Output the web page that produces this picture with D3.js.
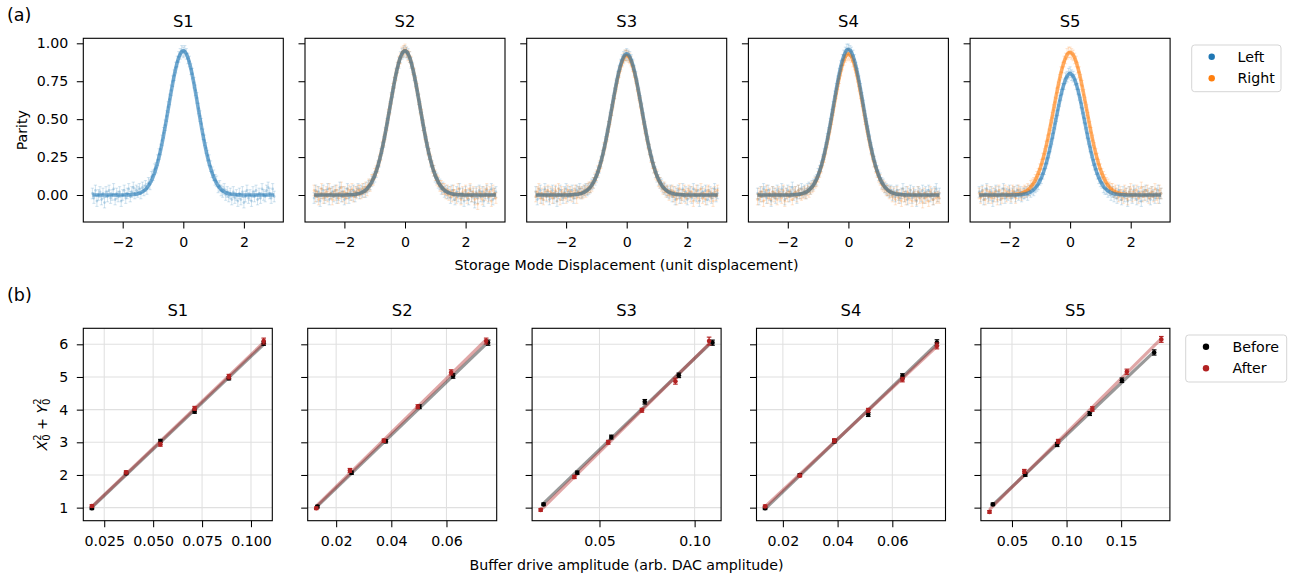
<!DOCTYPE html>
<html><head><meta charset="utf-8">
<script src="https://cdn.jsdelivr.net/npm/d3@7"></script>
<style>
body{margin:0;background:#fff}
text{font-family:"DejaVu Sans",sans-serif;fill:#000}
</style>
</head><body>
<svg id="chart" width="1294" height="579"></svg>
<script>
// ---------------- DATA ----------------
const panelNames = ["S1","S2","S3","S4","S5"];

// (a) storage mode displacement sweep
const displacement = [
 -3.00,-2.95,-2.90,-2.85,-2.80,-2.75,-2.70,-2.65,-2.60,-2.55,
 -2.50,-2.45,-2.40,-2.35,-2.30,-2.25,-2.20,-2.15,-2.10,-2.05,
 -2.00,-1.95,-1.90,-1.85,-1.80,-1.75,-1.70,-1.65,-1.60,-1.55,
 -1.50,-1.45,-1.40,-1.35,-1.30,-1.25,-1.20,-1.15,-1.10,-1.05,
 -1.00,-0.95,-0.90,-0.85,-0.80,-0.75,-0.70,-0.65,-0.60,-0.55,
 -0.50,-0.45,-0.40,-0.35,-0.30,-0.25,-0.20,-0.15,-0.10,-0.05,
  0.00, 0.05, 0.10, 0.15, 0.20, 0.25, 0.30, 0.35, 0.40, 0.45,
  0.50, 0.55, 0.60, 0.65, 0.70, 0.75, 0.80, 0.85, 0.90, 0.95,
  1.00, 1.05, 1.10, 1.15, 1.20, 1.25, 1.30, 1.35, 1.40, 1.45,
  1.50, 1.55, 1.60, 1.65, 1.70, 1.75, 1.80, 1.85, 1.90, 1.95,
  2.00, 2.05, 2.10, 2.15, 2.20, 2.25, 2.30, 2.35, 2.40, 2.45,
  2.50, 2.55, 2.60, 2.65, 2.70, 2.75, 2.80, 2.85, 2.90, 2.95,
  3.00];

const parityLeftS1 = [
 .01,-.02,.03,-.04,0,.02,-.03,.01,-.05,.02,
 -.01,.03,-.02,0,.04,-.03,.01,-.01,.02,-.04,
 0,.03,-.02,.01,.04,-.01,.02,.05,.01,.03,
 .02,.04,.01,.05,.03,.06,.04,.08,.07,.12,
 .13,.17,.18,.23,.27,.30,.36,.41,.46,.52,
 .58,.63,.69,.75,.79,.84,.88,.91,.93,.95,
 .94,.95,.93,.90,.88,.83,.80,.74,.69,.64,
 .57,.52,.47,.40,.36,.31,.26,.23,.19,.15,
 .13,.10,.09,.05,.06,.03,.02,.04,0,.02,
 -.01,.01,-.03,.02,-.02,0,-.04,.01,-.03,.02,
 -.05,-.01,.03,-.02,0,-.04,.02,-.01,.03,-.03,
 .01,-.02,.04,0,-.01,.03,.05,.01,-.02,.04,
 -.01];
const parityLeftS2 = [
 -.02,.03,-.01,.02,-.04,.01,.03,-.02,0,.04,
 -.03,.01,.02,-.01,.03,-.02,0,.05,-.01,.02,
 -.03,.01,.04,-.02,.02,0,.03,-.01,.02,.04,
 .01,.03,.02,.04,.02,.05,.06,.07,.09,.11,
 .12,.15,.19,.22,.27,.31,.35,.41,.47,.51,
 .58,.64,.68,.74,.80,.84,.87,.91,.93,.94,
 .95,.94,.93,.91,.87,.84,.79,.75,.69,.63,
 .58,.51,.46,.41,.35,.31,.27,.22,.19,.16,
 .12,.11,.08,.07,.04,.05,.02,.03,.01,.02,
 -.02,.03,0,-.03,.02,-.01,.04,-.02,.01,-.04,
 .02,0,-.03,.03,-.01,.01,-.05,.02,-.02,.03,
 -.01,.02,-.04,.01,.03,-.02,0,.04,-.03,.01,
 .02];
const parityRightS2 = [
 .03,-.01,.02,-.03,.01,.04,-.02,0,.02,-.01,
 .04,.01,-.03,.02,0,.03,-.02,.01,.05,-.01,
 .02,-.02,.01,.03,0,.04,-.01,.02,.01,.03,
 .03,.01,.04,.02,.05,.03,.07,.06,.10,.10,
 .14,.16,.18,.23,.26,.32,.36,.40,.46,.53,
 .57,.63,.70,.74,.79,.84,.88,.90,.94,.95,
 .96,.94,.92,.91,.88,.83,.80,.74,.70,.63,
 .57,.53,.46,.40,.36,.30,.27,.23,.18,.16,
 .13,.10,.09,.06,.06,.04,.04,.01,.03,0,
 .02,-.01,.03,0,-.02,.04,.01,-.03,.02,0,
 .03,-.02,.01,.04,-.01,.02,-.03,.01,-.06,.02,
 .01,-.03,.02,0,.04,-.01,.02,-.04,.03,.01,
 -.02];
const parityLeftS3 = [
 .02,-.03,.01,.03,-.02,0,.04,-.01,.02,-.03,
 .01,.03,-.02,.02,-.04,.01,.03,0,-.02,.02,
 .04,-.01,.02,0,.03,-.02,.01,.03,.02,.04,
 .01,.02,.03,.04,.03,.04,.05,.07,.08,.10,
 .12,.15,.18,.22,.26,.30,.35,.40,.45,.51,
 .56,.62,.67,.73,.78,.82,.86,.89,.91,.92,
 .93,.92,.91,.89,.86,.82,.78,.73,.67,.62,
 .57,.51,.45,.40,.35,.30,.26,.22,.18,.15,
 .12,.10,.08,.07,.05,.04,.03,.02,.01,.03,
 -.01,.02,-.03,.01,.03,-.02,0,.04,-.01,.02,
 -.03,.01,.02,-.02,.04,0,-.01,.03,-.04,.01,
 .02,-.01,.03,-.03,0,.02,-.02,.01,.04,-.01,
 .01];
const parityRightS3 = [
 -.01,.02,.04,-.02,.01,-.03,.02,0,.03,-.01,
 .02,-.02,.01,.03,-.01,.04,-.03,.02,0,.01,
 -.02,.03,0,.02,-.01,.01,.03,-.02,.02,.01,
 .02,.01,.03,.02,.04,.05,.05,.06,.08,.11,
 .13,.16,.19,.21,.26,.31,.34,.39,.45,.50,
 .56,.61,.67,.72,.77,.81,.85,.88,.90,.92,
 .92,.91,.90,.88,.85,.81,.77,.72,.66,.61,
 .56,.50,.44,.39,.34,.30,.25,.21,.18,.14,
 .13,.09,.08,.06,.04,.05,.02,.03,0,.02,
 .03,-.01,.02,-.03,.01,.04,-.02,0,.03,-.02,
 .01,.03,-.01,.02,-.04,.01,.03,-.02,0,.04,
 -.02,.01,-.03,.02,.03,-.01,.01,-.04,.02,0,
 .03];
const parityLeftS4 = [
 .01,-.03,.02,-.01,.04,.02,-.02,.03,0,-.04,
 .02,.01,-.02,.03,.01,-.01,.04,.02,-.03,.01,
 .03,-.01,.02,.05,0,.02,-.02,.03,.01,.04,
 .02,.03,.01,.04,.05,.04,.06,.07,.09,.10,
 .14,.16,.19,.23,.27,.31,.37,.41,.47,.53,
 .58,.65,.70,.75,.80,.85,.89,.92,.94,.96,
 .96,.95,.94,.92,.89,.84,.80,.75,.70,.64,
 .59,.52,.47,.42,.36,.31,.27,.22,.19,.16,
 .13,.11,.08,.07,.05,.04,.03,.02,.03,0,
 .02,-.01,.03,0,-.02,.01,.04,-.01,.02,-.03,
 .01,.03,-.02,.02,0,-.04,.02,.01,-.01,.03,
 -.02,.02,0,.03,-.01,.01,-.03,.02,.04,-.01,
 .01];
const parityRightS4 = [
 -.03,.01,-.01,.02,-.04,0,.03,-.02,.01,-.03,
 .02,-.01,.01,-.03,.02,0,-.02,.03,-.04,.01,
 -.01,.02,0,-.03,.01,.02,-.01,.03,.01,0,
 .01,.02,.01,.03,.02,.04,.05,.06,.08,.09,
 .12,.15,.18,.22,.25,.30,.35,.40,.45,.50,
 .56,.62,.67,.73,.77,.82,.86,.89,.91,.92,
 .93,.92,.91,.88,.86,.82,.78,.72,.67,.62,
 .56,.50,.45,.40,.35,.30,.26,.22,.18,.15,
 .12,.10,.07,.06,.05,.03,.03,.01,.02,-.01,
 .01,-.03,.02,-.02,0,-.04,.01,-.01,-.03,.02,
 -.02,0,-.04,.01,-.01,-.03,.02,-.02,0,-.05,
 .01,-.02,-.01,-.04,.02,0,-.03,.01,-.02,-.01,
 -.02];
const parityLeftS5 = [
 .02,-.01,.03,-.03,.01,.04,-.02,0,.02,-.04,
 .01,.03,-.01,.02,-.03,.01,.04,-.02,.01,0,
 .03,-.02,.01,.02,-.01,.03,0,.02,-.01,.01,
 .01,.02,0,.03,.02,.04,.03,.05,.06,.07,
 .10,.11,.14,.17,.21,.24,.28,.32,.37,.41,
 .47,.52,.56,.62,.66,.70,.73,.77,.78,.80,
 .81,.79,.78,.76,.73,.70,.66,.61,.57,.51,
 .47,.41,.37,.32,.28,.23,.20,.17,.14,.11,
 .09,.08,.05,.04,.04,.02,.03,0,.02,-.01,
 .01,-.02,.03,0,-.03,.02,-.01,.01,-.04,.02,
 0,-.02,.03,.01,-.03,.02,-.01,-.04,.02,0,
 .03,-.01,.01,-.03,.02,0,-.02,.01,.03,-.02,
 .01];
const parityRightS5 = [
 .01,-.02,.02,0,-.03,.03,-.01,.02,-.02,.01,
 -.01,.02,-.03,.03,0,-.02,.01,.03,-.01,.02,
 .01,-.01,.03,.02,-.02,.01,.03,.01,0,.02,
 .03,.02,.04,.03,.06,.07,.08,.10,.12,.14,
 .17,.20,.24,.27,.32,.36,.40,.46,.51,.56,
 .61,.67,.71,.76,.81,.84,.88,.90,.93,.94,
 .94,.93,.92,.90,.88,.84,.81,.76,.72,.66,
 .61,.56,.51,.45,.41,.36,.31,.27,.24,.20,
 .17,.14,.12,.10,.08,.07,.05,.04,.04,.02,
 .03,.01,-.01,.02,0,-.02,.03,.01,-.03,.02,
 .04,-.01,.02,0,.03,-.02,.01,.05,-.01,.02,
 0,.03,-.02,.01,.02,-.01,.04,0,-.02,.03,
 .01];

const parityLeft  = [parityLeftS1, parityLeftS2, parityLeftS3, parityLeftS4, parityLeftS5];
const parityRight = [null, parityRightS2, parityRightS3, parityRightS4, parityRightS5];
const parityErr = 0.035;
// Gaussian fit parameters (amplitude, width) per panel
const fitAmpLeft    = [0.95, 0.95, 0.93, 0.96, 0.80];
const fitSigmaLeft  = [0.49, 0.50, 0.50, 0.50, 0.48];
const fitAmpRight   = [null, 0.95, 0.92, 0.93, 0.94];
const fitSigmaRight = [null, 0.50, 0.50, 0.50, 0.54];
const parityTicks = [0, 0.25, 0.5, 0.75, 1.0];
const dispTicks = [-2, 0, 2];

// (b) buffer drive calibration
const ampBefore = [
 [0.0187,0.0362,0.0537,0.0712,0.0887,0.1065],
 [0.0132,0.0256,0.0380,0.0502,0.0624,0.0751],
 [0.0206,0.0383,0.0562,0.0738,0.0917,0.1094],
 [0.0135,0.0262,0.0388,0.0512,0.0637,0.0763],
 [0.0325,0.0622,0.0914,0.1212,0.1507,0.1803]];
const sqBefore = [
 [0.98,2.05,3.04,3.94,4.96,6.03],
 [1.03,2.07,3.03,4.09,5.03,6.05],
 [1.10,2.07,3.16,4.24,5.05,6.05],
 [0.98,2.00,3.03,3.85,5.03,6.05],
 [1.10,2.01,2.93,3.88,4.90,5.75]];
const errBefore = [
 [0.04,0.04,0.05,0.05,0.05,0.06],
 [0.04,0.05,0.05,0.06,0.07,0.08],
 [0.04,0.05,0.06,0.07,0.07,0.08],
 [0.04,0.04,0.05,0.06,0.07,0.09],
 [0.04,0.05,0.06,0.06,0.07,0.08]];
const ampAfter = [
 [0.0187,0.0362,0.0537,0.0712,0.0887,0.1065],
 [0.0128,0.0250,0.0373,0.0496,0.0617,0.0744],
 [0.0191,0.0368,0.0546,0.0723,0.0899,0.1076],
 [0.0135,0.0262,0.0388,0.0512,0.0637,0.0763],
 [0.0294,0.0613,0.0923,0.1236,0.1552,0.1868]];
const sqAfter = [
 [1.05,2.08,2.94,4.04,5.01,6.10],
 [0.98,2.14,3.05,4.09,5.14,6.10],
 [0.93,1.94,3.00,3.98,4.87,6.10],
 [1.04,1.98,3.05,3.98,4.92,5.95],
 [0.87,2.11,3.03,4.02,5.16,6.15]];
const errAfter = [
 [0.04,0.05,0.06,0.06,0.07,0.09],
 [0.04,0.06,0.05,0.06,0.08,0.09],
 [0.04,0.05,0.06,0.06,0.09,0.12],
 [0.04,0.04,0.06,0.06,0.07,0.09],
 [0.04,0.06,0.06,0.07,0.08,0.09]];
const ampTicks = [
 [0.025,0.050,0.075,0.100],
 [0.02,0.04,0.06],
 [0.05,0.10],
 [0.02,0.04,0.06],
 [0.05,0.10,0.15]];
const ampTickLabels = [
 ["0.025","0.050","0.075","0.100"],
 ["0.02","0.04","0.06"],
 ["0.05","0.10"],
 ["0.02","0.04","0.06"],
 ["0.05","0.10","0.15"]];
const sqTicks = [1,2,3,4,5,6];

// ---------------- DRAWING ----------------
const svg = d3.select("#chart");
const cLeft = "#1f77b4", cRight = "#ff7f0e", cBefore = "#000000", cAfter = "#b22222";
const TICK = 6.5, PAD = 8.5, FS = 14.2, TFS = 16.4;

function styleAxis(g){
  g.selectAll(".domain").remove();
  g.selectAll(".tick line").attr("stroke","#000").attr("stroke-width",1.05);
  g.selectAll(".tick text").attr("font-size",FS).attr("font-family","DejaVu Sans");
}

// ---- Row (a) ----
const topW = 200, topH = 183.7, topY = 38.3, topX0 = 83.3, topDX = 221.7;
const xTop = d3.scaleLinear().domain([-3.3,3.3]).range([0,topW]);
const yTop = d3.scaleLinear().domain([-0.178,1.033]).range([topH,0]);

panelNames.forEach((name,i)=>{
  const g = svg.append("g").attr("transform",`translate(${topX0+i*topDX},${topY})`);
  const series = [
    {vals: parityLeft[i],  color: cLeft,  amp: fitAmpLeft[i],  sig: fitSigmaLeft[i]},
    {vals: parityRight[i], color: cRight, amp: fitAmpRight[i], sig: fitSigmaRight[i]}
  ].filter(s=>s.vals);

  series.forEach(s=>{
    const pg = g.append("g");
    displacement.forEach((x,k)=>{
      const y = s.vals[k], cx = xTop(x);
      pg.append("line").attr("x1",cx).attr("x2",cx)
        .attr("y1",yTop(y-parityErr)).attr("y2",yTop(y+parityErr))
        .attr("stroke",s.color).attr("stroke-opacity",0.2).attr("stroke-width",1);
      [y-parityErr,y+parityErr].forEach(v=>{
        pg.append("line").attr("x1",cx-1.6).attr("x2",cx+1.6)
          .attr("y1",yTop(v)).attr("y2",yTop(v))
          .attr("stroke",s.color).attr("stroke-opacity",0.2).attr("stroke-width",1);
      });
      pg.append("circle").attr("cx",cx).attr("cy",yTop(y)).attr("r",1.4)
        .attr("fill",s.color).attr("fill-opacity",0.25);
    });
  });
  // fits: Right first, Left on top
  series.slice().reverse().forEach(s=>{
    const line = d3.line()
      .x(x=>xTop(x))
      .y(x=>yTop(s.amp*Math.exp(-x*x/(2*s.sig*s.sig))))
      .curve(d3.curveMonotoneX);
    g.append("path").attr("d",line(displacement)).attr("fill","none")
      .attr("stroke",s.color).attr("stroke-opacity",0.6).attr("stroke-width",3.6);
  });

  const ax = g.append("g").attr("transform",`translate(0,${topH})`)
    .call(d3.axisBottom(xTop).tickValues(dispTicks).tickSize(TICK).tickPadding(PAD)
      .tickFormat(d3.format("d")));
  styleAxis(ax);
  const ay = g.append("g")
    .call(d3.axisLeft(yTop).tickValues(parityTicks).tickSize(TICK).tickPadding(PAD)
      .tickFormat(i===0 ? d3.format(".2f") : ()=>""));
  styleAxis(ay);
  g.append("rect").attr("width",topW).attr("height",topH).attr("fill","none")
    .attr("stroke","#000").attr("stroke-width",1.1);
  g.append("text").attr("x",topW/2).attr("y",-11.3).attr("text-anchor","middle")
    .attr("font-size",TFS).text(name);
});

svg.append("text").attr("x",27).attr("y",topY+topH/2).attr("text-anchor","middle")
  .attr("transform",`rotate(-90,27,${topY+topH/2})`).attr("font-size",FS).text("Parity");
svg.append("text").attr("x",626.5).attr("y",270).attr("text-anchor","middle")
  .attr("font-size",FS).text("Storage Mode Displacement (unit displacement)");
svg.append("text").attr("x",7).attr("y",21).attr("font-size",17.5).text("(a)");

// legend (a)
{
  const lg = svg.append("g");
  lg.append("rect").attr("x",1191.7).attr("y",45).attr("width",89.3).attr("height",46.7)
    .attr("rx",3).attr("fill","#fff").attr("stroke","#d5d5d5").attr("stroke-width",1);
  [["Left",cLeft,56.7],["Right",cRight,78.3]].forEach(([t,c,yy])=>{
    lg.append("circle").attr("cx",1211.7).attr("cy",yy).attr("r",3.2).attr("fill",c);
    lg.append("text").attr("x",1237.5).attr("y",yy+5).attr("font-size",FS).text(t);
  });
}

// ---- Row (b) ----
const botW = 189, botH = 192.4, botY = 328.3, botX0 = 83.3, botDX = 224.4;
const yBot = d3.scaleLinear().domain([0.6,6.49]).range([botH,0]);

function linFit(xs,ys){
  const mx = d3.mean(xs), my = d3.mean(ys);
  let sxy=0, sxx=0;
  xs.forEach((x,k)=>{ sxy += (x-mx)*(ys[k]-my); sxx += (x-mx)*(x-mx); });
  const m = sxy/sxx; return {m, b: my - m*mx};
}

panelNames.forEach((name,i)=>{
  const g = svg.append("g").attr("transform",`translate(${botX0+i*botDX},${botY})`);
  const allX = ampBefore[i].concat(ampAfter[i]);
  const [lo,hi] = d3.extent(allX);
  const pad = (hi-lo)*0.05;
  const xB = d3.scaleLinear().domain([lo-pad, hi+pad]).range([0,botW]);

  ampTicks[i].forEach(t=>{
    g.append("line").attr("x1",xB(t)).attr("x2",xB(t)).attr("y1",0).attr("y2",botH)
      .attr("stroke","#e0e0e0").attr("stroke-width",1.05);
  });
  sqTicks.forEach(t=>{
    g.append("line").attr("x1",0).attr("x2",botW).attr("y1",yBot(t)).attr("y2",yBot(t))
      .attr("stroke","#e0e0e0").attr("stroke-width",1.05);
  });

  const sets = [
    {xs: ampBefore[i], ys: sqBefore[i], es: errBefore[i], color: cBefore},
    {xs: ampAfter[i],  ys: sqAfter[i],  es: errAfter[i],  color: cAfter}
  ];
  sets.forEach(s=>{
    const f = linFit(s.xs, s.ys);
    const [a,b] = d3.extent(s.xs);
    g.append("line").attr("x1",xB(a)).attr("x2",xB(b))
      .attr("y1",yBot(f.m*a+f.b)).attr("y2",yBot(f.m*b+f.b))
      .attr("stroke",s.color).attr("stroke-opacity",0.4).attr("stroke-width",3.2);
  });
  sets.forEach(s=>{
    s.xs.forEach((x,k)=>{
      const cx = xB(x), y = s.ys[k], e = s.es[k];
      g.append("line").attr("x1",cx).attr("x2",cx).attr("y1",yBot(y-e)).attr("y2",yBot(y+e))
        .attr("stroke",s.color).attr("stroke-width",1.3);
      [y-e,y+e].forEach(v=>{
        g.append("line").attr("x1",cx-2.3).attr("x2",cx+2.3).attr("y1",yBot(v)).attr("y2",yBot(v))
          .attr("stroke",s.color).attr("stroke-width",1.1);
      });
      g.append("circle").attr("cx",cx).attr("cy",yBot(y)).attr("r",2.3).attr("fill",s.color);
    });
  });

  const ax = g.append("g").attr("transform",`translate(0,${botH})`)
    .call(d3.axisBottom(xB).tickValues(ampTicks[i]).tickSize(TICK).tickPadding(PAD)
      .tickFormat((d,k)=>ampTickLabels[i][k]));
  styleAxis(ax);
  const ay = g.append("g")
    .call(d3.axisLeft(yBot).tickValues(sqTicks).tickSize(TICK).tickPadding(PAD)
      .tickFormat(i===0 ? d3.format("d") : ()=>""));
  styleAxis(ay);
  g.append("rect").attr("width",botW).attr("height",botH).attr("fill","none")
    .attr("stroke","#000").attr("stroke-width",1.1);
  g.append("text").attr("x",botW/2).attr("y",-12).attr("text-anchor","middle")
    .attr("font-size",TFS).text(name);
});

// y label X0^2 + Y0^2
{
  const cy = botY + botH/2;
  const t = svg.append("text").attr("x",46.5).attr("y",cy).attr("text-anchor","middle")
    .attr("transform",`rotate(-90,46.5,${cy})`).attr("font-size",FS);
  t.append("tspan").attr("font-style","italic").text("X");
  t.append("tspan").attr("font-size",10).attr("dy",-6).text("2");
  t.append("tspan").attr("font-size",10).attr("dx",-6.4).attr("dy",9.5).text("0");
  t.append("tspan").attr("dy",-3.5).text(" + ");
  t.append("tspan").attr("font-style","italic").text("Y");
  t.append("tspan").attr("font-size",10).attr("dy",-6).text("2");
  t.append("tspan").attr("font-size",10).attr("dx",-6.4).attr("dy",9.5).text("0");
}
svg.append("text").attr("x",626.5).attr("y",570).attr("text-anchor","middle")
  .attr("font-size",FS).text("Buffer drive amplitude (arb. DAC amplitude)");
svg.append("text").attr("x",7).attr("y",301).attr("font-size",17.5).text("(b)");

// legend (b)
{
  const lg = svg.append("g");
  lg.append("rect").attr("x",1185.7).attr("y",335).attr("width",101).attr("height",47)
    .attr("rx",3).attr("fill","#fff").attr("stroke","#d5d5d5").attr("stroke-width",1);
  [["Before",cBefore,346.7],["After",cAfter,368.3]].forEach(([t,c,yy])=>{
    lg.append("circle").attr("cx",1206).attr("cy",yy).attr("r",3.2).attr("fill",c);
    lg.append("text").attr("x",1232.5).attr("y",yy+5).attr("font-size",FS).text(t);
  });
}
</script>
</body></html>
